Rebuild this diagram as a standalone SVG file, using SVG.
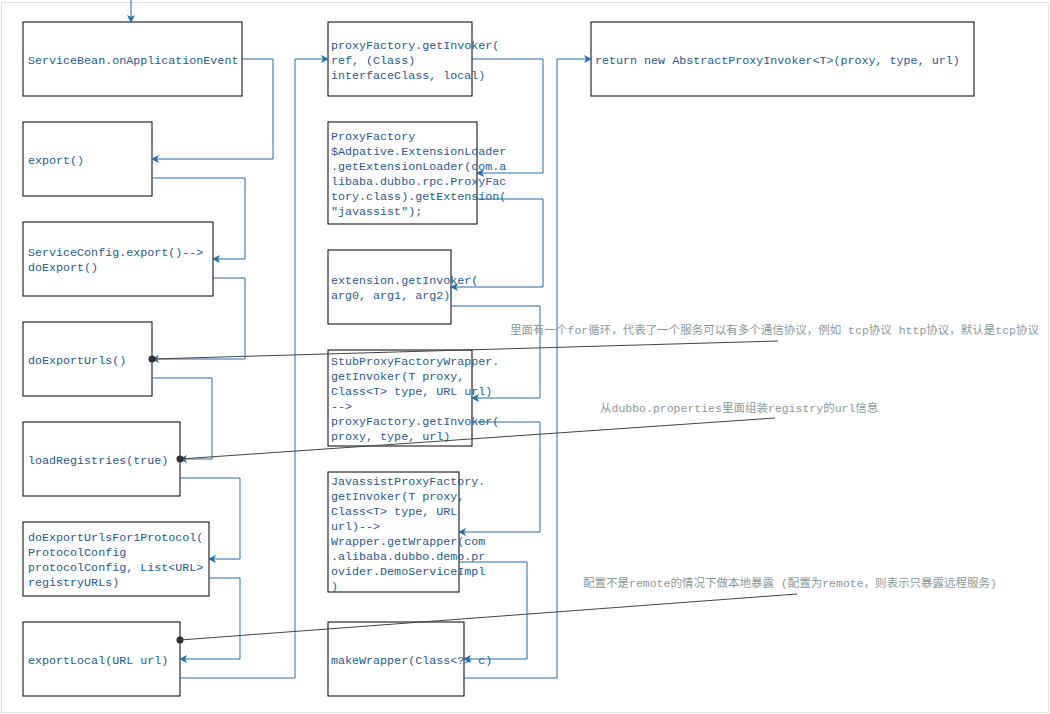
<svg xmlns="http://www.w3.org/2000/svg" width="1050" height="714" viewBox="0 0 1050 714">
<defs>
<marker id="a" markerWidth="8" markerHeight="8" refX="7" refY="4" orient="auto" markerUnits="userSpaceOnUse"><path d="M0,0 L8,4 L0,8 L2,4 z" fill="#2a6fa8"/></marker>
<marker id="d" markerWidth="8" markerHeight="8" refX="4" refY="4" markerUnits="userSpaceOnUse"><circle cx="4" cy="4" r="3.5" fill="#333"/></marker>
</defs>
<style>
.n rect{fill:#fff;stroke:#000;stroke-width:1}
.n text{font-family:"Liberation Mono","Noto Sans CJK SC",monospace;font-size:11.7px;fill:#1f5a8c}
.c path{fill:none;stroke:#2a6fa8;stroke-width:1;marker-end:url(#a)}
.m line{stroke:#444;stroke-width:1}
.m text{font-family:"Liberation Mono","Noto Sans CJK SC",monospace;font-size:11.5px;fill:#8a9a9a}
</style>
<rect x="1.5" y="2.5" width="1047" height="710" fill="#fff" stroke="#e0e0e0"/>
<g class="n" id="n1"><rect x="23" y="22" width="219" height="74"/><text x="28" y="64">ServiceBean.onApplicationEvent</text></g>
<g class="n" id="n2"><rect x="23" y="122" width="129" height="74"/><text x="28" y="164">export()</text></g>
<g class="n" id="n3"><rect x="23" y="222" width="190" height="74"/><text x="28" y="256">ServiceConfig.export()--&gt;</text><text x="28" y="271">doExport()</text></g>
<g class="n" id="n4"><rect x="23" y="322" width="129" height="74"/><text x="28" y="364">doExportUrls()</text></g>
<g class="n" id="n5"><rect x="23" y="422" width="157" height="74"/><text x="28" y="464">loadRegistries(true)</text></g>
<g class="n" id="n6"><rect x="23" y="522" width="186" height="74"/><text x="28" y="541">doExportUrlsFor1Protocol(</text><text x="28" y="556">ProtocolConfig</text><text x="28" y="571">protocolConfig, List&lt;URL&gt;</text><text x="28" y="586">registryURLs)</text></g>
<g class="n" id="n7"><rect x="23" y="622" width="157" height="74"/><text x="28" y="664">exportLocal(URL url)</text></g>
<g class="n" id="n8"><rect x="328" y="22" width="144" height="74"/><text x="331" y="49">proxyFactory.getInvoker(</text><text x="331" y="64">ref, (Class)</text><text x="331" y="79">interfaceClass, local)</text></g>
<g class="n" id="n9"><rect x="328" y="122" width="149" height="102"/><text x="331" y="140">ProxyFactory</text><text x="331" y="155">$Adpative.ExtensionLoader</text><text x="331" y="170">.getExtensionLoader(com.a</text><text x="331" y="185">libaba.dubbo.rpc.ProxyFac</text><text x="331" y="200">tory.class).getExtension(</text><text x="331" y="215">"javassist");</text></g>
<g class="n" id="n10"><rect x="328" y="250" width="123" height="74"/><text x="331" y="284">extension.getInvoker(</text><text x="331" y="299">arg0, arg1, arg2)</text></g>
<g class="n" id="n11"><rect x="328" y="350" width="144" height="96"/><text x="331" y="365">StubProxyFactoryWrapper.</text><text x="331" y="380">getInvoker(T proxy,</text><text x="331" y="395">Class&lt;T&gt; type, URL url)</text><text x="331" y="410">--&gt;</text><text x="331" y="425">proxyFactory.getInvoker(</text><text x="331" y="440">proxy, type, url)</text></g>
<g class="n" id="n12"><rect x="328" y="472" width="131" height="120"/><text x="331" y="485">JavassistProxyFactory.</text><text x="331" y="500">getInvoker(T proxy,</text><text x="331" y="515">Class&lt;T&gt; type, URL</text><text x="331" y="530">url)--&gt;</text><text x="331" y="545">Wrapper.getWrapper(com</text><text x="331" y="560">.alibaba.dubbo.demo.pr</text><text x="331" y="575">ovider.DemoServiceImpl</text><text x="331" y="590">)</text></g>
<g class="n" id="n13"><rect x="328" y="622" width="136" height="74"/><text x="331" y="664">makeWrapper(Class&lt;?&gt; c)</text></g>
<g class="n" id="n14"><rect x="591" y="22" width="383" height="74"/><text x="595" y="64">return new AbstractProxyInvoker&lt;T&gt;(proxy, type, url)</text></g>
<g class="c" id="connectors">
<path d="M131,0 V22"/>
<path d="M242,59 H273 V159 H152"/>
<path d="M152,178 H245 V259 H213"/>
<path d="M213,278 H245 V359 H152"/>
<path d="M152,378 H212 V459 H180"/>
<path d="M180,478 H240 V559 H209"/>
<path d="M209,578 H240 V659 H180"/>
<path d="M180,678 H295 V59 H328"/>
<path d="M472,59 H543 V173 H477"/>
<path d="M477,199 H543 V287 H451"/>
<path d="M451,306 H540 V398 H472"/>
<path d="M472,422 H540 V532 H459"/>
<path d="M459,562 H527 V659 H464"/>
<path d="M464,678 H557 V59 H591"/>
</g>
<g class="m" id="notes">
<line x1="778" y1="341" x2="152" y2="359" marker-end="url(#d)"/>
<line x1="775" y1="418" x2="180" y2="459" marker-end="url(#d)"/>
<line x1="797" y1="594" x2="180" y2="640" marker-end="url(#d)"/>
<text x="510" y="334">里面有一个for循环，代表了一个服务可以有多个通信协议，例如 tcp协议 http协议，默认是tcp协议</text>
<text x="600" y="412">从dubbo.properties里面组装registry的url信息</text>
<text x="583" y="587">配置不是remote的情况下做本地暴露 (配置为remote，则表示只暴露远程服务)</text>
</g>
</svg>
